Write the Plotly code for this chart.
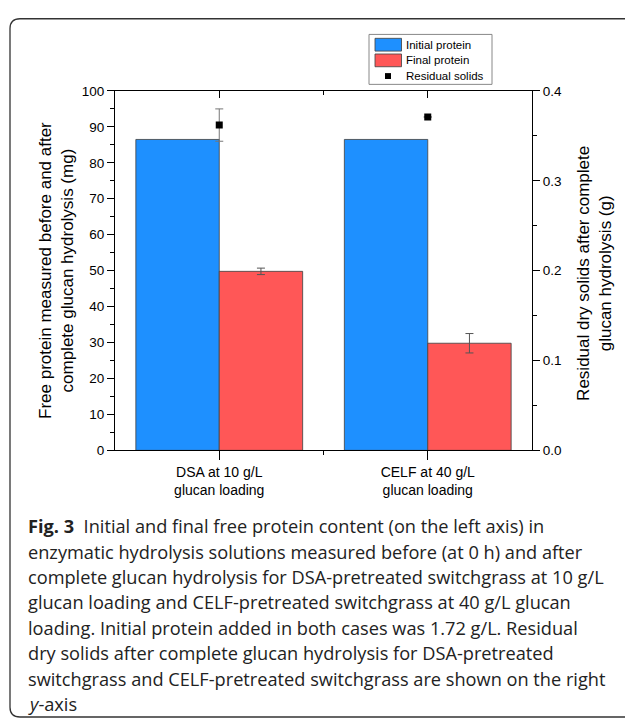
import plotly.graph_objects as go

categories = ["DSA at 10 g/L<br>glucan loading", "CELF at 40 g/L<br>glucan loading"]
cat_pos = [0, 1]
initial_protein = [86.5, 86.5]
final_protein = [49.8, 29.8]
final_protein_err = [0.9, 2.7]
residual_solids = [0.362, 0.371]
residual_solids_err = [0.018, 0.0]
legend_labels = ["Initial protein", "Final protein", "Residual solids"]
caption_lines = [
    "<b>Fig. 3</b>  Initial and final free protein content (on the left axis) in",
    "enzymatic hydrolysis solutions measured before (at 0 h) and after",
    "complete glucan hydrolysis for DSA-pretreated switchgrass at 10 g/L",
    "glucan loading and CELF-pretreated switchgrass at 40 g/L glucan",
    "loading. Initial protein added in both cases was 1.72 g/L. Residual",
    "dry solids after complete glucan hydrolysis for DSA-pretreated",
    "switchgrass and CELF-pretreated switchgrass are shown on the right",
    "<i>y</i>-axis",
]
left_title = "Free protein measured before and after<br>complete glucan hydrolysis (mg)"
right_title = "Residual dry solids after complete<br>glucan hydrolysis (g)"

W, H = 625, 726
BLUE = "#1E90FF"
RED = "#FF5757"
AX_FONT = "Liberation Sans, Arial, sans-serif"

def px(x):
    return x / W

def py(y):
    return 1 - y / H

fig = go.Figure()
fig.add_trace(go.Bar(
    x=cat_pos, y=initial_protein, name=legend_labels[0],
    marker=dict(color=BLUE, line=dict(color="rgba(70,70,70,0.85)", width=1)),
    showlegend=False,
))
fig.add_trace(go.Bar(
    x=cat_pos, y=final_protein, name=legend_labels[1],
    marker=dict(color=RED, line=dict(color="rgba(70,70,70,0.85)", width=1)),
    error_y=dict(type="data", array=final_protein_err, color="#555555", thickness=1, width=4),
    showlegend=False,
))
fig.add_trace(go.Scatter(
    x=cat_pos, y=residual_solids, name=legend_labels[2], yaxis="y2", mode="markers",
    marker=dict(symbol="square", color="black", size=7),
    error_y=dict(type="data", array=residual_solids_err, color="#777777", thickness=1, width=4),
    showlegend=False,
))
# invisible trace to activate top mirror axis
fig.add_trace(go.Scatter(x=cat_pos, y=[None, None], xaxis="x2", showlegend=False, hoverinfo="skip"))

x0, x1 = 115, 532
y_top, y_bot = 85.7, 452.7

fig.update_layout(
    width=W, height=H, autosize=False,
    margin=dict(l=0, r=0, t=0, b=0),
    paper_bgcolor="white", plot_bgcolor="white",
    barmode="group", bargap=0.2, bargroupgap=0,
    showlegend=False,
    font=dict(family=AX_FONT, color="black"),
    xaxis=dict(
        domain=[px(x0), px(x1)], range=[-0.5, 1.5],
        tickmode="array", tickvals=cat_pos, ticktext=categories,
        ticks="outside", ticklen=9, tickwidth=1.2, tickcolor="black",
        showline=True, linecolor="black", linewidth=1.2,
        showgrid=False, zeroline=False,
        tickfont=dict(size=14, family=AX_FONT),
        minor=dict(tickvals=[0.5], ticks="outside", ticklen=4, tickcolor="black", tickwidth=1.2),
        anchor="y",
    ),
    xaxis2=dict(
        domain=[px(x0), px(x1)], range=[-0.5, 1.5], overlaying="x", side="top",
        tickmode="array", tickvals=cat_pos, showticklabels=False,
        ticks="inside", ticklen=7, tickwidth=1.2, tickcolor="black",
        showline=True, linecolor="black", linewidth=1.2,
        showgrid=False, zeroline=False,
        minor=dict(tickvals=[0.5], ticks="inside", ticklen=4, tickcolor="black", tickwidth=1.2),
        anchor="y",
    ),
    yaxis=dict(
        domain=[py(y_bot), py(y_top)], range=[0, 100],
        tickmode="linear", tick0=0, dtick=10,
        ticks="outside", ticklen=7, tickwidth=1.2, tickcolor="black",
        showline=True, linecolor="black", linewidth=1.2,
        showgrid=False, zeroline=False,
        tickfont=dict(size=13.5, family=AX_FONT),
        minor=dict(dtick=5, ticks="outside", ticklen=4, tickcolor="black", tickwidth=1.2),
        anchor="x",
    ),
    yaxis2=dict(
        domain=[py(y_bot), py(y_top)], range=[0, 0.4], overlaying="y", side="right",
        tickmode="linear", tick0=0, dtick=0.1, tickformat=".1f",
        ticks="outside", ticklen=7, tickwidth=1.2, tickcolor="black",
        showline=True, linecolor="black", linewidth=1.2,
        showgrid=False, zeroline=False,
        tickfont=dict(size=13.5, family=AX_FONT),
        minor=dict(dtick=0.05, ticks="outside", ticklen=4, tickcolor="black", tickwidth=1.2),
        anchor="x",
    ),
)

shapes = []
annotations = []

# frame with rounded corners
r = 10
fx0, fy0, fy1 = 10, 12, 725
path = (f"M {px(W+5)},{py(fy0)} L {px(fx0+r)},{py(fy0)} "
        f"Q {px(fx0)},{py(fy0)} {px(fx0)},{py(fy0+r)} "
        f"L {px(fx0)},{py(fy1-r)} Q {px(fx0)},{py(fy1)} {px(fx0+r)},{py(fy1)} "
        f"L {px(W+5)},{py(fy1)}")
shapes.append(dict(type="path", xref="paper", yref="paper", path=path,
                   line=dict(color="#333333", width=1.3)))

# legend box
lx0, lx1, ly0, ly1 = 369, 492, 28, 79
shapes.append(dict(type="rect", xref="paper", yref="paper",
                   x0=px(lx0), x1=px(lx1), y0=py(ly1), y1=py(ly0),
                   line=dict(color="#888888", width=1), fillcolor="white"))
rows = [38.5, 54.5, 70.5]
for col, yy in zip([BLUE, RED], rows[:2]):
    shapes.append(dict(type="rect", xref="paper", yref="paper",
                       x0=px(375), x1=px(401.5), y0=py(yy + 6.5), y1=py(yy - 6.5),
                       line=dict(color="rgba(70,70,70,0.85)", width=1), fillcolor=col))
shapes.append(dict(type="rect", xref="paper", yref="paper",
                   x0=px(385), x1=px(391), y0=py(rows[2] + 3), y1=py(rows[2] - 3),
                   line=dict(color="black", width=0), fillcolor="black"))
for lab, yy in zip(legend_labels, rows):
    annotations.append(dict(xref="paper", yref="paper", x=px(404), y=py(yy),
                            xanchor="left", yanchor="middle", showarrow=False,
                            text=lab, font=dict(size=11.5, family=AX_FONT, color="black")))

# axis titles
annotations.append(dict(xref="paper", yref="paper", x=px(56.5), y=py(269),
                        xanchor="center", yanchor="middle", showarrow=False, textangle=-90,
                        text=left_title, font=dict(size=17, family=AX_FONT, color="black")))
annotations.append(dict(xref="paper", yref="paper", x=px(594.5), y=py(272),
                        xanchor="center", yanchor="middle", showarrow=False, textangle=-90,
                        text=right_title, font=dict(size=17, family=AX_FONT, color="black")))

# caption
cap_y0 = 530
for i, line in enumerate(caption_lines):
    annotations.append(dict(xref="paper", yref="paper", x=px(26), y=py(cap_y0 + i * 26.0),
                            xanchor="left", yanchor="middle", showarrow=False,
                            text=line, font=dict(size=18.2, family="Open Sans", color="#222222")))

fig.update_layout(shapes=shapes, annotations=annotations)
fig.write_html("out.html", config={"displayModeBar": False},
               post_script="document.body.style.margin='0';document.body.style.overflow='hidden';")
